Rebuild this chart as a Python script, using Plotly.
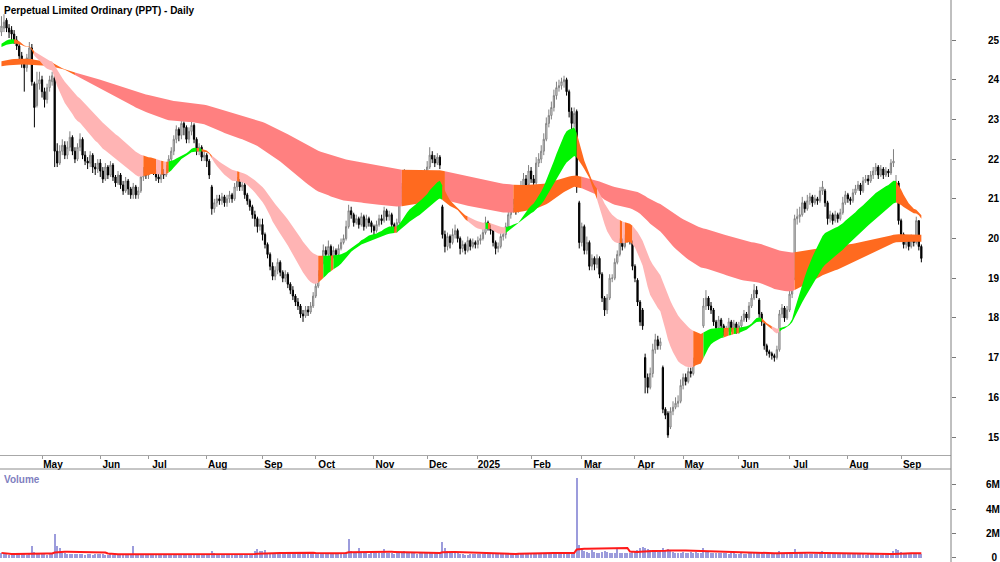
import numpy as np
import pandas as pd
import plotly.graph_objects as go

TITLE = "Perpetual Limited Ordinary (PPT) - Daily"
FIRST_SESSION = "2024-04-08"
ASX_HOLIDAYS = ["2024-04-25", "2024-06-10", "2024-12-25", "2024-12-26", "2025-01-01",
                "2025-01-27", "2025-04-18", "2025-04-21", "2025-04-25", "2025-06-09"]

opens = [
    25.2, 25.3, 25.5, 25.3, 25.25, 25.15, 25.0, 24.85, 24.6, 24.4, 24.3, 24.5, 24.8, 23.9, 23.35, 23.9,
    24.0, 23.7, 23.5, 23.8, 23.95, 24.05, 22.2, 21.9, 22.2, 22.35, 22.1, 22.3, 22.55, 22.2, 22.0, 22.3, 22.5, 22.1, 21.95, 21.9, 22.1, 21.8, 21.75,
    21.9, 21.7, 21.5, 21.8, 21.6, 21.85, 21.55, 21.4, 21.6, 21.35, 21.2, 21.45, 21.25, 21.1, 21.3, 21.1, 21.2, 21.55, 21.7,
    21.6, 21.75, 21.9, 21.7, 21.55, 21.5, 21.65, 21.6, 21.75, 22.0, 22.2, 22.5, 22.75, 22.6, 22.9, 22.8, 22.5, 22.7, 22.85, 22.5, 22.2, 22.3, 22.05,
    22.1, 21.95, 21.3, 20.75, 20.9, 21.0, 20.95, 21.05, 20.9, 21.0, 21.1, 21.0, 21.3, 21.45, 21.3, 21.35, 21.1, 20.95, 20.8, 20.6, 20.5, 20.3,
    20.35, 20.1, 19.85, 19.6, 19.3, 19.05, 19.2, 19.4, 19.15, 19.0, 19.1, 18.85, 18.7, 18.55, 18.4, 18.3, 18.1, 18.05, 18.2, 18.15, 18.3,
    18.55, 18.8, 19.1, 19.4, 19.7, 19.6, 19.8, 19.55, 19.7, 19.6, 19.75, 19.9, 20.0, 20.3, 20.7, 20.6, 20.4, 20.5, 20.35, 20.55, 20.3, 20.5, 20.4,
    20.3, 20.2, 20.35, 20.5, 20.45, 20.7, 20.55, 20.6, 20.35, 20.25, 20.4, 20.9, 21.3, 21.6, 21.45, 21.5, 21.3, 21.55, 21.35, 21.3, 21.5,
    21.6, 21.8, 22.1, 22.0, 21.9, 22.05, 20.8, 20.1, 19.8, 20.05, 19.9, 20.1, 20.2, 20.0, 19.75, 19.85, 19.7, 19.95, 19.8, 19.9,
    19.85, 19.95, 20.0, 20.15, 20.4, 20.3, 20.2, 19.9, 19.75, 19.8, 20.05, 20.1, 20.3, 20.6, 20.75, 20.9, 20.7, 21.0, 21.3, 21.5, 21.35,
    21.7, 21.5, 21.4, 21.9, 22.0, 22.2, 22.5, 22.9, 23.1, 23.3, 23.6, 23.8, 23.85, 23.95, 24.0, 23.7, 23.2, 22.9, 23.2, 20.9,
    19.9, 20.3, 19.7, 19.9, 19.3, 19.5, 19.35, 19.5, 19.1, 18.5, 18.2, 18.5, 19.0, 19.0, 19.4, 19.6, 19.9, 19.8, 20.0, 20.1, 19.9,
    19.3, 18.95, 18.4, 18.2, 17.0, 16.5, 16.25, 16.6, 17.2, 17.45, 17.3, 16.75, 15.7, 15.6, 15.25, 15.65, 15.75, 15.85, 15.9,
    16.3, 16.5, 16.4, 16.65, 16.6, 16.9, 17.2, 17.1, 17.8, 18.3, 18.5, 18.3, 18.2, 17.9, 17.75, 17.95, 17.8, 17.65, 17.7, 17.9, 17.75, 17.85,
    17.7, 17.8, 17.95, 18.1, 18.0, 18.3, 18.5, 18.7, 18.45, 18.1, 17.85, 17.3, 17.15, 17.1, 17.05, 17.0, 17.2, 18.1, 18.25, 18.0,
    18.2, 18.6, 19.0, 20.5, 20.55, 20.6, 20.9, 20.75, 20.95, 21.05, 20.9, 21.0, 20.95, 21.2, 21.2, 20.9, 20.5, 20.6, 20.45, 20.6, 20.5, 20.65, 20.9,
    21.1, 21.0, 20.95, 21.15, 21.25, 21.35, 21.2, 21.45, 21.5, 21.45, 21.6, 21.7, 21.8, 21.6, 21.75, 21.6, 21.7, 21.65, 21.9, 21.3, 21.4,
    20.45, 20.1, 19.85, 19.95, 19.8, 20.0, 19.9, 20.45, 19.8,
]
highs = [
    25.6, 25.65, 25.55, 25.4, 25.35, 25.25, 25.1, 24.95, 24.7, 24.5, 24.65, 24.95, 24.9, 23.95, 24.2, 24.2,
    24.1, 23.8, 23.9, 24.1, 24.2, 24.1, 22.4, 22.35, 22.5, 22.45, 22.45, 22.7, 22.6, 22.3, 22.4, 22.65, 22.55, 22.2, 22.05, 22.2, 22.15, 21.9, 22.0,
    22.0, 21.8, 21.9, 21.85, 21.95, 21.9, 21.6, 21.7, 21.65, 21.45, 21.55, 21.5, 21.3, 21.4, 21.35, 21.3, 21.6, 21.8, 21.8,
    21.85, 22.0, 21.95, 21.75, 21.65, 21.75, 21.75, 21.85, 22.1, 22.3, 22.6, 22.85, 22.8, 23.0, 22.95, 22.85, 22.8, 22.95, 22.9, 22.55, 22.4, 22.35, 22.2,
    22.15, 22.0, 21.35, 21.0, 21.1, 21.1, 21.15, 21.1, 21.1, 21.2, 21.15, 21.4, 21.55, 21.5, 21.45, 21.4, 21.15, 21.0, 20.85, 20.7, 20.55, 20.5,
    20.5, 20.15, 19.9, 19.65, 19.4, 19.3, 19.5, 19.45, 19.2, 19.2, 19.15, 18.9, 18.8, 18.6, 18.5, 18.35, 18.2, 18.3, 18.3, 18.4, 18.65,
    18.9, 19.2, 19.5, 19.85, 19.8, 19.95, 19.85, 19.8, 19.75, 19.85, 20.0, 20.1, 20.45, 20.85, 20.8, 20.65, 20.6, 20.55, 20.65, 20.6, 20.6, 20.55, 20.45,
    20.35, 20.45, 20.6, 20.6, 20.8, 20.75, 20.7, 20.65, 20.4, 20.5, 21.0, 21.4, 21.75, 21.7, 21.65, 21.55, 21.65, 21.6, 21.45, 21.6, 21.75,
    21.95, 22.3, 22.2, 22.1, 22.15, 22.1, 20.85, 20.2, 20.15, 20.1, 20.25, 20.35, 20.25, 20.05, 19.95, 19.9, 20.05, 20.0, 20.0, 19.95,
    20.05, 20.1, 20.25, 20.55, 20.45, 20.35, 20.25, 19.95, 19.9, 20.15, 20.2, 20.4, 20.7, 20.85, 21.0, 20.95, 21.1, 21.45, 21.65, 21.6, 21.85,
    21.8, 21.6, 22.05, 22.15, 22.35, 22.65, 23.05, 23.25, 23.45, 23.75, 23.95, 24.0, 24.05, 24.1, 24.05, 23.75, 23.3, 23.3, 23.25, 20.95,
    20.4, 20.35, 20.05, 19.95, 19.6, 19.55, 19.6, 19.55, 19.15, 18.55, 18.6, 19.1, 19.1, 19.5, 19.7, 20.0, 20.0, 20.1, 20.25, 20.15, 19.95,
    19.35, 19.0, 18.45, 18.25, 17.1, 16.6, 16.75, 17.35, 17.6, 17.55, 17.5, 16.8, 15.75, 15.65, 15.75, 15.9, 16.0, 16.05, 16.45,
    16.6, 16.6, 16.75, 16.75, 17.0, 17.3, 17.25, 17.15, 18.5, 18.7, 18.55, 18.4, 18.25, 17.95, 18.05, 18.0, 17.85, 17.8, 18.0, 17.95, 17.95, 17.9,
    17.9, 18.05, 18.2, 18.15, 18.4, 18.6, 18.85, 18.8, 18.5, 18.15, 17.9, 17.35, 17.2, 17.15, 17.1, 17.3, 18.2, 18.35, 18.3, 18.3,
    18.7, 19.1, 20.6, 20.75, 20.8, 21.05, 20.95, 21.1, 21.15, 21.1, 21.1, 21.05, 21.3, 21.45, 21.25, 20.95, 20.7, 20.65, 20.7, 20.65, 20.75, 21.05, 21.2,
    21.15, 21.05, 21.25, 21.35, 21.45, 21.4, 21.55, 21.6, 21.6, 21.7, 21.8, 21.9, 21.85, 21.85, 21.8, 21.8, 21.75, 22.0, 22.25, 21.6, 21.45,
    20.5, 20.15, 20.05, 20.0, 20.1, 20.05, 20.55, 20.45, 19.85,
]
lows = [
    25.1, 25.2, 25.2, 25.05, 25.0, 24.9, 24.75, 24.5, 24.3, 23.7, 24.2, 24.4, 23.85, 22.8, 23.3, 23.75,
    23.55, 23.3, 23.4, 23.7, 23.85, 21.8, 21.8, 21.85, 22.1, 22.0, 22.0, 22.2, 22.1, 21.9, 21.95, 22.2, 22.0, 21.85, 21.75, 21.8, 21.65, 21.6, 21.65,
    21.55, 21.4, 21.45, 21.5, 21.55, 21.45, 21.3, 21.35, 21.25, 21.1, 21.15, 21.1, 21.0, 21.0, 21.0, 21.0, 21.15, 21.45, 21.5,
    21.5, 21.65, 21.6, 21.45, 21.4, 21.4, 21.5, 21.55, 21.7, 21.9, 22.1, 22.4, 22.45, 22.5, 22.6, 22.4, 22.4, 22.6, 22.4, 22.1, 22.1, 21.95, 21.95,
    21.8, 21.5, 20.6, 20.65, 20.8, 20.85, 20.85, 20.8, 20.8, 20.9, 20.9, 20.95, 21.2, 21.2, 21.2, 21.0, 20.85, 20.7, 20.5, 20.3, 20.15, 20.2,
    19.95, 19.75, 19.5, 19.2, 18.95, 18.95, 19.1, 19.05, 18.9, 18.9, 18.75, 18.6, 18.45, 18.3, 18.2, 18.0, 17.9, 18.0, 18.05, 18.1, 18.25,
    18.5, 18.75, 19.0, 19.35, 19.5, 19.5, 19.45, 19.5, 19.5, 19.55, 19.7, 19.85, 19.95, 20.25, 20.5, 20.3, 20.35, 20.25, 20.3, 20.2, 20.25, 20.3, 20.15,
    20.05, 20.15, 20.3, 20.35, 20.4, 20.45, 20.45, 20.25, 20.15, 20.15, 20.35, 20.85, 21.25, 21.35, 21.35, 21.2, 21.25, 21.25, 21.15, 21.25, 21.4,
    21.55, 21.75, 21.9, 21.8, 21.85, 21.75, 20.0, 19.65, 19.7, 19.75, 19.85, 20.0, 19.9, 19.6, 19.65, 19.6, 19.65, 19.7, 19.75, 19.75,
    19.75, 19.85, 19.95, 20.1, 20.2, 20.1, 19.8, 19.6, 19.65, 19.75, 19.95, 20.0, 20.25, 20.5, 20.65, 20.6, 20.65, 20.95, 21.2, 21.25, 21.3,
    21.4, 21.3, 21.35, 21.8, 21.9, 22.1, 22.45, 22.8, 23.0, 23.2, 23.5, 23.7, 23.75, 23.8, 23.6, 23.05, 22.75, 22.8, 21.15, 19.75,
    19.8, 19.6, 19.6, 19.2, 19.2, 19.2, 19.25, 19.0, 18.4, 18.05, 18.1, 18.45, 18.9, 18.95, 19.35, 19.55, 19.7, 19.75, 19.9, 19.85, 19.2,
    18.9, 18.3, 17.8, 17.7, 16.1, 16.1, 16.2, 16.5, 17.1, 17.2, 17.2, 15.6, 15.45, 14.98, 15.2, 15.55, 15.7, 15.75, 15.85,
    16.2, 16.3, 16.35, 16.5, 16.55, 16.85, 17.0, 16.9, 17.75, 18.2, 18.2, 18.1, 17.8, 17.65, 17.7, 17.7, 17.55, 17.55, 17.65, 17.65, 17.7, 17.6,
    17.6, 17.75, 17.9, 17.9, 17.95, 18.25, 18.45, 18.5, 18.0, 17.8, 17.2, 17.05, 17.0, 16.95, 16.9, 16.95, 17.15, 18.0, 17.9, 17.95,
    18.15, 18.5, 18.95, 20.35, 20.4, 20.55, 20.65, 20.7, 20.85, 20.8, 20.85, 20.85, 20.9, 21.1, 20.8, 20.35, 20.4, 20.35, 20.4, 20.4, 20.45, 20.6, 20.85,
    20.9, 20.85, 20.9, 21.1, 21.2, 21.1, 21.15, 21.4, 21.35, 21.4, 21.5, 21.6, 21.5, 21.55, 21.5, 21.55, 21.55, 21.6, 21.8, 21.2, 20.35,
    20.0, 19.75, 19.75, 19.7, 19.75, 19.8, 19.85, 19.7, 19.4,
]
closes = [
    25.35, 25.45, 25.3, 25.2, 25.15, 25.0, 24.85, 24.6, 24.45, 24.3, 24.55, 24.8, 23.95, 23.3, 23.9, 24.0,
    23.7, 23.5, 23.8, 24.0, 24.1, 22.2, 21.9, 22.2, 22.35, 22.1, 22.3, 22.55, 22.2, 22.0, 22.3, 22.5, 22.1, 21.95, 21.9, 22.1, 21.8, 21.75, 21.9,
    21.7, 21.5, 21.8, 21.6, 21.85, 21.55, 21.4, 21.6, 21.35, 21.2, 21.45, 21.25, 21.1, 21.3, 21.1, 21.2, 21.55, 21.7, 21.6,
    21.75, 21.9, 21.7, 21.55, 21.5, 21.65, 21.6, 21.75, 22.0, 22.2, 22.5, 22.75, 22.6, 22.9, 22.8, 22.5, 22.7, 22.85, 22.5, 22.2, 22.3, 22.05, 22.1,
    21.95, 21.6, 20.75, 20.9, 21.0, 20.95, 21.05, 20.9, 21.0, 21.1, 21.0, 21.3, 21.45, 21.3, 21.35, 21.1, 20.95, 20.8, 20.6, 20.5, 20.3, 20.35,
    20.1, 19.85, 19.6, 19.3, 19.05, 19.2, 19.4, 19.15, 19.0, 19.1, 18.85, 18.7, 18.55, 18.4, 18.3, 18.1, 18.05, 18.2, 18.15, 18.3, 18.55,
    18.8, 19.1, 19.4, 19.7, 19.6, 19.8, 19.55, 19.7, 19.6, 19.75, 19.9, 20.0, 20.3, 20.7, 20.6, 20.4, 20.5, 20.35, 20.55, 20.3, 20.5, 20.4, 20.3,
    20.2, 20.35, 20.5, 20.45, 20.7, 20.55, 20.6, 20.35, 20.25, 20.4, 20.9, 21.3, 21.6, 21.45, 21.5, 21.3, 21.55, 21.35, 21.3, 21.5, 21.6,
    21.8, 22.1, 22.0, 21.9, 22.05, 21.85, 20.1, 19.8, 20.05, 19.9, 20.1, 20.2, 20.0, 19.75, 19.85, 19.7, 19.95, 19.8, 19.9, 19.85,
    19.95, 20.0, 20.15, 20.4, 20.3, 20.2, 19.9, 19.75, 19.8, 20.05, 20.1, 20.3, 20.6, 20.75, 20.9, 20.7, 21.0, 21.3, 21.5, 21.35, 21.7,
    21.5, 21.4, 21.9, 22.0, 22.2, 22.5, 22.9, 23.1, 23.3, 23.6, 23.8, 23.85, 23.95, 24.0, 23.7, 23.2, 22.9, 23.15, 21.3, 19.9,
    20.3, 19.7, 19.9, 19.3, 19.5, 19.35, 19.5, 19.1, 18.5, 18.2, 18.5, 19.0, 19.0, 19.4, 19.6, 19.9, 19.8, 20.0, 20.1, 19.95, 19.3,
    19.0, 18.4, 17.9, 17.8, 16.5, 16.25, 16.6, 17.2, 17.45, 17.3, 17.4, 15.7, 15.55, 15.05, 15.65, 15.75, 15.85, 15.9, 16.3,
    16.5, 16.4, 16.65, 16.6, 16.9, 17.2, 17.1, 17.0, 18.3, 18.5, 18.3, 18.2, 17.9, 17.75, 17.95, 17.8, 17.65, 17.7, 17.9, 17.75, 17.85, 17.7,
    17.8, 17.95, 18.1, 18.0, 18.3, 18.5, 18.7, 18.6, 18.1, 17.9, 17.3, 17.15, 17.1, 17.05, 17.0, 17.2, 18.1, 18.25, 18.0, 18.2,
    18.6, 19.0, 20.5, 20.55, 20.6, 20.9, 20.75, 20.95, 21.05, 20.9, 21.0, 20.95, 21.2, 21.3, 20.9, 20.5, 20.6, 20.45, 20.6, 20.5, 20.65, 20.9, 21.1,
    21.0, 20.95, 21.15, 21.25, 21.35, 21.2, 21.45, 21.5, 21.45, 21.6, 21.7, 21.8, 21.6, 21.75, 21.6, 21.7, 21.65, 21.9, 21.95, 21.4, 20.45,
    20.1, 19.85, 19.95, 19.8, 20.0, 19.9, 20.45, 19.8, 19.5,
]
volume_thousands = [
    420, 350, 300, 280, 330, 300, 380, 290, 310, 350, 280, 330, 950, 520, 380, 340,
    320, 300, 280, 340, 380, 2000, 950, 800, 450, 380, 340, 300, 320, 350, 290, 330, 310, 280, 300, 350, 270, 300, 330,
    290, 310, 280, 260, 300, 270, 250, 290, 280, 310, 260, 350, 300, 1000, 250, 270, 300, 260, 280,
    260, 280, 300, 250, 270, 290, 260, 240, 300, 320, 280, 350, 310, 290, 270, 300, 280, 260, 250, 290, 270, 240, 260,
    280, 300, 550, 400, 320, 300, 290, 270, 260, 300, 280, 310, 330, 290, 270, 260, 300, 280, 290, 600, 700, 550,
    600, 650, 450, 450, 400, 380, 350, 420, 380, 400, 350, 330, 360, 390, 420, 380, 450, 400, 500, 380, 420,
    380, 420, 350, 400, 370, 350, 380, 400, 360, 420, 380, 450, 500, 1600, 550, 450, 400, 800, 420, 380, 400, 350, 380,
    420, 400, 380, 400, 700, 420, 380, 400, 350, 380, 450, 500, 550, 480, 420, 400, 380, 350, 400, 380, 420,
    450, 500, 420, 400, 380, 420, 1300, 800, 550, 450, 400, 420, 380, 350, 300, 250, 280, 300, 350, 320,
    300, 320, 350, 380, 330, 300, 350, 320, 300, 340, 360, 380, 400, 420, 380, 350, 400, 450, 420, 380, 400,
    380, 350, 400, 420, 450, 400, 430, 450, 420, 400, 380, 350, 400, 420, 380, 400, 450, 500, 6600, 1100,
    700, 550, 500, 450, 650, 500, 450, 420, 500, 600, 500, 450, 420, 400, 750, 420, 450, 450, 420, 400, 500,
    550, 650, 850, 900, 850, 700, 650, 600, 550, 500, 600, 850, 600, 700, 550, 500, 450, 420, 450,
    500, 450, 420, 480, 450, 500, 420, 400, 800, 600, 500, 450, 420, 400, 380, 420, 400, 380, 350, 400, 380, 360,
    350, 380, 340, 360, 400, 420, 380, 500, 450, 480, 420, 380, 350, 400, 370, 350, 550, 450, 400, 420,
    400, 450, 750, 500, 420, 400, 380, 350, 360, 340, 330, 350, 380, 600, 450, 400, 380, 350, 330, 320, 340, 360, 350,
    330, 320, 300, 310, 290, 320, 300, 280, 300, 320, 310, 290, 300, 280, 310, 330, 350, 400, 550, 700, 650,
    500, 420, 380, 350, 330, 320, 350, 300, 320,
]

SHORT_PERIODS = [20, 23, 26, 30, 34, 40]
LONG_PERIODS = [120, 135, 150, 170, 190, 230]
SHORT_START = [24.86, 24.85, 24.84, 24.83, 24.82, 24.80]
LONG_START = [24.45, 24.43, 24.41, 24.39, 24.36, 24.33]
PRICE_TICKS = list(range(15, 26))
VOLUME_TICKS = [0, 2_000_000, 4_000_000, 6_000_000]
VOLUME_TICK_TEXT = ["\u20070", "2M", "4M", "6M"]

n = len(closes)
assert all(len(a) == n for a in (opens, highs, lows, volume_thousands))

sessions = pd.bdate_range(FIRST_SESSION, periods=n + 40)
sessions = sessions[~sessions.isin(pd.to_datetime(ASX_HOLIDAYS))][:n]
idx = np.arange(n)
month_starts = [i for i in range(1, n) if sessions[i].month != sessions[i - 1].month]
month_text = ["2025" if sessions[i].month == 1 else sessions[i].strftime("%b") for i in month_starts]

closes_arr = np.array(closes, dtype=float)
volumes = np.array(volume_thousands, dtype=float) * 1000.0
volume_avg = pd.Series(volumes).rolling(21, min_periods=1).mean().to_numpy()


def ema(values, period, start):
    k = 2.0 / (period + 1)
    out = np.empty(len(values))
    prev = start
    for i, v in enumerate(values):
        prev += k * (v - prev)
        out[i] = prev
    return out


short_emas = np.array([ema(closes_arr, p, s) for p, s in zip(SHORT_PERIODS, SHORT_START)])
long_emas = np.array([ema(closes_arr, p, s) for p, s in zip(LONG_PERIODS, LONG_START)])


def with_history(m, seeds):
    return np.column_stack([np.array(seeds)] * 3 + [m])


# short band: green while every average rises, pink while every average falls
# in bearish order, orange otherwise
sh = with_history(short_emas, SHORT_START)
s_slope = sh[:, 3:] - sh[:, 2:-1]
s_up = (s_slope > 0).all(axis=0)
s_down = (s_slope < 0).all(axis=0) & (np.diff(short_emas, axis=0) > 0).all(axis=0)
short_state = np.where(s_up, 1, np.where(s_down, -1, 0))

# long band: red while the averages fall in bearish order, orange otherwise
lh = with_history(long_emas, LONG_START)
fast_rise = (lh[0, 3:] - lh[0, :-3]) > 0
bear_order = (np.diff(long_emas, axis=0) > 0).all(axis=0)
long_state = np.where(bear_order & ~fast_rise, -1, 0)

SHORT_COLORS = {1: "#00f500", 0: "#ff6a1f", -1: "#ffb4b4"}
LONG_COLORS = {-1: "#ff8080", 0: "#ff6a1f"}

fig = go.Figure()


def add_band(m, states, colors):
    hi = m.max(axis=0)
    lo = m.min(axis=0)
    start = 0
    for i in range(1, n + 1):
        if i == n or states[i] != states[start]:
            end = min(i, n - 1)
            xs = list(range(start, end + 1))
            ys = list(hi[start:end + 1]) + list(lo[start:end + 1][::-1])
            fig.add_trace(go.Scatter(
                x=xs + xs[::-1], y=ys, fill="toself", fillcolor=colors[int(states[start])],
                mode="lines", line=dict(width=0), hoverinfo="skip", showlegend=False,
                xaxis="x", yaxis="y"))
            start = i


add_band(long_emas, long_state, LONG_COLORS)
add_band(short_emas, short_state, SHORT_COLORS)

fig.add_trace(go.Candlestick(
    x=idx, open=opens, high=highs, low=lows, close=closes,
    increasing=dict(line=dict(color="#808080", width=1), fillcolor="#f0f0f0"),
    decreasing=dict(line=dict(color="#000000", width=1), fillcolor="#000000"),
    whiskerwidth=0, showlegend=False, xaxis="x", yaxis="y"))

fig.add_trace(go.Bar(
    x=idx, y=volumes, width=0.45, marker=dict(color="#9c9cdc", line=dict(width=0)),
    showlegend=False, xaxis="x2", yaxis="y2"))
fig.add_trace(go.Scatter(
    x=idx, y=volume_avg, mode="lines", line=dict(color="#ff1a1a", width=2),
    showlegend=False, xaxis="x2", yaxis="y2"))

W, H = 1000, 562
AXIS_X = 951
PRICE_BOTTOM = 455
VOL_TOP = 469
X_RANGE = [-0.576, 374.7]
font = dict(family="Liberation Sans, Arial, sans-serif", size=10, color="#000000", weight=700)

fig.update_layout(
    width=W, height=H, margin=dict(l=0, r=0, t=0, b=0),
    paper_bgcolor="white", plot_bgcolor="white", showlegend=False,
    bargap=0,
    xaxis=dict(domain=[0, AXIS_X / W], range=X_RANGE, anchor="y",
               tickmode="array", tickvals=month_starts, ticktext=month_text,
               ticks="outside", ticklen=3, tickcolor="#9a9a9a", tickwidth=1,
               showline=True, linecolor="#a8a8a8", linewidth=1,
               showgrid=False, zeroline=False, tickfont=font,
               ticklabelshift=11, ticklabelstandoff=-3,
               rangeslider=dict(visible=False), fixedrange=True),
    yaxis=dict(domain=[1 - PRICE_BOTTOM / H, 1], range=[14.547, 26.008], anchor="x",
               side="right", tickmode="array", tickvals=PRICE_TICKS,
               ticks="outside", ticklen=4, tickcolor="#777777",
               showline=False, showgrid=False, zeroline=False, tickfont=font,
               ticklabelstandoff=30),
    xaxis2=dict(domain=[0, AXIS_X / W], range=X_RANGE, anchor="y2",
                showticklabels=False, ticks="", showline=False,
                showgrid=False, zeroline=False),
    yaxis2=dict(domain=[0, 1 - VOL_TOP / H], range=[-0.33e6, 7.31e6], anchor="x2",
                side="right", tickmode="array", tickvals=VOLUME_TICKS, ticktext=VOLUME_TICK_TEXT,
                ticks="outside", ticklen=4, tickcolor="#777777",
                showline=False, showgrid=False, zeroline=False, tickfont=font,
                ticklabelstandoff=28, ticklabeloverflow="allow"),
    shapes=[
        dict(type="line", xref="paper", yref="paper", x0=AXIS_X / W, x1=AXIS_X / W, y0=0, y1=1,
             line=dict(color="#808080", width=1)),
        dict(type="line", xref="paper", yref="paper", x0=0, x1=AXIS_X / W,
             y0=1 - VOL_TOP / H, y1=1 - VOL_TOP / H, line=dict(color="#8c8c8c", width=1)),
    ],
    annotations=[
        dict(text=TITLE, xref="paper", yref="paper", x=2 / W, y=1 - 3 / H,
             xanchor="left", yanchor="top", showarrow=False, font=font),
        dict(text="Volume", xref="paper", yref="paper", x=2 / W, y=1 - 472 / H,
             xanchor="left", yanchor="top", showarrow=False,
             font=dict(family="Liberation Sans, Arial, sans-serif", size=10, color="#8080c0", weight=700)),
    ],
)

fig.write_html("out.html")
